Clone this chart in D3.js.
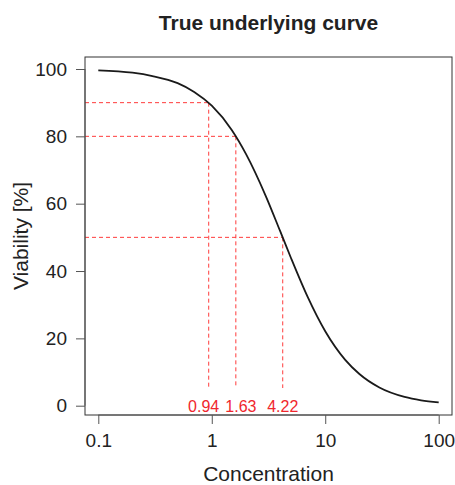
<!DOCTYPE html>
<html>
<head>
<meta charset="utf-8">
<script src="https://cdn.jsdelivr.net/npm/d3@7"></script>
<style>
  body { margin: 0; background: #fff; }
  text { font-family: "Liberation Sans", Arial, sans-serif; }
</style>
</head>
<body>
<div id="chart"></div>
<script>
// curve points (concentration, viability %)
const conc = [0.1, 0.2, 0.3, 0.5, 0.7, 1, 1.5, 2, 3, 4, 5, 7, 10, 15, 20, 30, 50, 70, 100];
const viability = [99.6, 98.9, 97.9, 95.8, 93.2, 89.1, 81.9, 74.8, 62.2, 51.9, 43.8, 32.3, 22.1, 13.6, 9.4, 5.4, 2.6, 1.6, 1.0];

// reference levels and the concentrations where the curve hits them
const refLevels = [90, 80, 50];
const refConc = [0.94, 1.63, 4.22];

const xTicks = [0.1, 1, 10, 100];
const yTicks = [0, 20, 40, 60, 80, 100];

const width = 455, height = 485;
const box = {left: 85, right: 452, top: 57, bottom: 415};

let x = d3.scaleLog().domain([0.1, 100]).range([98.3, 438.7]);
let y = d3.scaleLinear().domain([0, 100]).range([405.7, 69]);

let svg = d3.select("#chart").append("svg")
  .attr("width", width)
  .attr("height", height);

// title
svg.append("text")
  .attr("x", (box.left + box.right) / 2)
  .attr("y", 30)
  .attr("text-anchor", "middle")
  .style("font-size", "21px")
  .style("font-weight", "bold")
  .attr("fill", "#222")
  .text("True underlying curve");

// red dashed guides
let guides = svg.append("g").attr("class", "guides");
refLevels.forEach((lv, i) => {
  guides.append("line")
    .attr("x1", box.left).attr("x2", x(refConc[i]))
    .attr("y1", y(lv)).attr("y2", y(lv));
  guides.append("line")
    .attr("x1", x(refConc[i])).attr("x2", x(refConc[i]))
    .attr("y1", y(lv)).attr("y2", 388);
});
guides.selectAll("line")
  .attr("stroke", "#ff3b3b")
  .attr("stroke-width", 1)
  .attr("stroke-dasharray", "4,3");

let refLabels = svg.append("g").selectAll("text")
  .data(refConc)
  .join("text")
  .attr("x", d => x(d))
  .attr("y", 412)
  .attr("text-anchor", "middle")
  .style("font-size", "16px")
  .attr("fill", "#f0262d")
  .text(d => d.toFixed(2));

// push apart labels that would collide
let nodes = refLabels.nodes(), gap = 6;
for (let i = 1; i < nodes.length; i++) {
  let a = nodes[i - 1].getBBox(), b = nodes[i].getBBox();
  let overlap = (a.x + a.width + gap) - b.x;
  if (overlap > 0) {
    d3.select(nodes[i - 1]).attr("x", +nodes[i - 1].getAttribute("x") - overlap / 2);
    d3.select(nodes[i]).attr("x", +nodes[i].getAttribute("x") + overlap / 2);
  }
}

// curve
let line = d3.line()
  .x((d, i) => x(conc[i]))
  .y(d => y(d))
  .curve(d3.curveMonotoneX);

svg.append("path")
  .datum(viability)
  .attr("d", line)
  .attr("fill", "none")
  .attr("stroke", "#1a1a1a")
  .attr("stroke-width", 1.8);

// box
svg.append("rect")
  .attr("x", box.left).attr("y", box.top)
  .attr("width", box.right - box.left)
  .attr("height", box.bottom - box.top)
  .attr("fill", "none")
  .attr("stroke", "#333")
  .attr("stroke-width", 1);

// axes
let xAxis = d3.axisBottom(x).tickValues(xTicks).tickFormat(d3.format("~g"))
  .tickSize(9).tickPadding(10).tickSizeOuter(0);
let yAxis = d3.axisLeft(y).tickValues(yTicks)
  .tickSize(9).tickPadding(9).tickSizeOuter(0);

let gx = svg.append("g")
  .attr("transform", `translate(0,${box.bottom})`)
  .call(xAxis);
gx.select(".domain").attr("d", `M${x(0.1)},0H${x(100)}`);

let gy = svg.append("g")
  .attr("transform", `translate(${box.left},0)`)
  .call(yAxis);
gy.select(".domain").attr("d", `M0,${y(0)}V${y(100)}`);

[gx, gy].forEach(g => {
  g.selectAll(".domain").attr("stroke", "#555");
  g.selectAll(".tick line").attr("stroke", "#555");
  g.selectAll(".tick text")
    .attr("fill", "#222")
    .style("font-size", "19px")
    .style("font-family", "Liberation Sans, Arial, sans-serif");
});

// axis titles
svg.append("text")
  .attr("x", (box.left + box.right) / 2)
  .attr("y", 481)
  .attr("text-anchor", "middle")
  .style("font-size", "21px")
  .attr("fill", "#222")
  .text("Concentration");

svg.append("text")
  .attr("transform", `translate(28,${(box.top + box.bottom) / 2}) rotate(-90)`)
  .attr("text-anchor", "middle")
  .style("font-size", "21px")
  .attr("fill", "#222")
  .text("Viability [%]");
</script>
</body>
</html>
